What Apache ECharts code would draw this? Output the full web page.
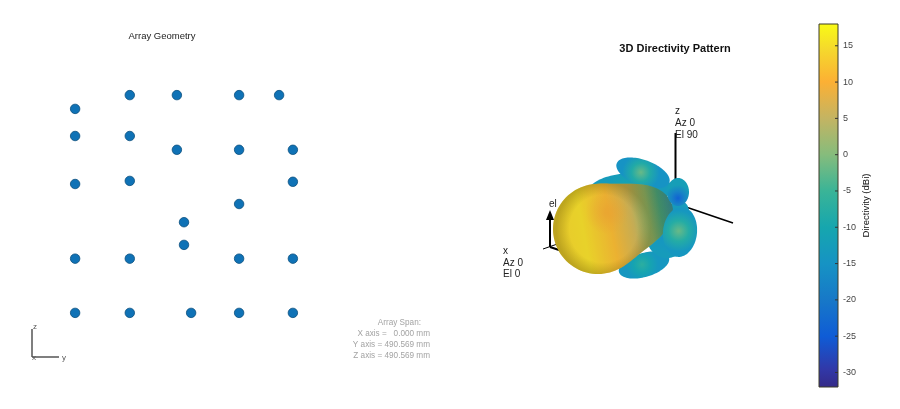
<!DOCTYPE html>
<html><head><meta charset="utf-8">
<style>html,body{margin:0;padding:0;background:#fff}#c{width:900px;height:409px}</style>
<script src="https://cdn.jsdelivr.net/npm/echarts@6/dist/echarts.min.js"></script>
</head><body><div id="c"></div>
<script>
// Element positions of the array (mm)
var elementY = [-122,-16,124,214,-245,-245,-122,-16,124,245,-122,-245,245,124,0,0,-245,-122,124,245,-245,-122,16,124,245];
var elementZ = [245,245,245,245,214,153,153,122,122,122,52,45,50,0,-41,-92,-123,-123,-123,-123,-245,-245,-245,-245,-245];
var spanMm = 245.28;
// Directivity colour bar
var dbiMin = -32, dbiMax = 18;
var dbiTicks = [-30,-25,-20,-15,-10,-5,0,5,10,15];
var mapPos = [0,0.05,0.14,0.24,0.34,0.44,0.54,0.64,0.74,0.84,0.93,1];
var mapCol = ['#352a87','#3138a8','#0f5cd6','#1778c8','#1693c4','#16a6ae','#3ab497','#86bc7c','#c4b462','#fcb034','#f5d92c','#f9fb15'];
// 3D pattern lobes (pattern-view units): x, y, reach, radius, tilt, tail width, peak dBi, rim dBi
var lobeNames = ['shoulder','top','bottom','wedge','main','right','neck'];
var lobeX    = [130, 143, 144, 167,  98, 180, 178];
var lobeY    = [ 95,  78, 170, 143, 134, 137,  97];
var lobeLen  = [ 42,  28,  26,  40,  78,  17,  11];
var lobeWid  = [ 17,  13,  12,  20,  45,  25,  14];
var lobeTilt = [ -3,  20, -16, -66, -19,   6,   0];
var lobeTap  = [  0,   0,   0, 0.5, 0.58,  0,   0];
var lobePeak = [-10,  -2,  -7, -15,  14,  -2, -24];
var lobeRim  = [-13, -15, -14, -13,   8, -14, -12];

function parula(v){
  var t=(v-dbiMin)/(dbiMax-dbiMin),i=1;
  while(i<mapPos.length-1&&mapPos[i]<t)i++;
  var f=(t-mapPos[i-1])/(mapPos[i]-mapPos[i-1]);
  var a=mapCol[i-1],b=mapCol[i],o='#';
  for(var k=1;k<7;k+=2){
    var n=Math.round(parseInt(a.substr(k,2),16)*(1-f)+parseInt(b.substr(k,2),16)*f);
    o+=(n<16?'0':'')+n.toString(16);
  }
  return o;
}
function lobeRender(params,api){
  var i=params.dataIndex;
  var c=api.coord([api.value(0),api.value(1)]);
  var len=api.value(2),wid=api.value(3),tilt=api.value(4)*Math.PI/180,tap=api.value(5);
  var pts=[];
  for(var s=0;s<96;s++){
    var t=s/96*2*Math.PI;
    if(tap>0){
      // round body with a tail pulled out toward the neck
      var d=Math.atan2(Math.sin(t),Math.cos(t));
      var r=wid+(len-wid)*Math.exp(-(d*d)/(tap*tap));
      pts.push([c[0]+r*Math.cos(t+tilt),c[1]+r*Math.sin(t+tilt)]);
    } else {
      var u=len*Math.cos(t),w=wid*Math.sin(t);
      pts.push([c[0]+u*Math.cos(tilt)-w*Math.sin(tilt),c[1]+u*Math.sin(tilt)+w*Math.cos(tilt)]);
    }
  }
  var peak=api.value(6),rim=api.value(7),kids=[];
  var name=lobeNames[i];
  if(name==='main'){
    kids.push({type:'polygon',shape:{points:pts},style:{fill:new echarts.graphic.LinearGradient(0,0.55,1,0.3,[
      {offset:0,color:parula(14)},{offset:0.25,color:parula(15)},{offset:0.48,color:parula(11)},
      {offset:0.66,color:parula(6)},{offset:0.8,color:parula(0)},{offset:0.9,color:parula(-7)},{offset:1,color:parula(-15)}])}});
    kids.push({type:'polygon',shape:{points:pts},style:{fill:new echarts.graphic.RadialGradient(0.45,0.32,0.24,[
      {offset:0,color:'rgba(248,165,50,0.7)'},{offset:1,color:'rgba(248,165,50,0)'}])}});
    kids.push({type:'polygon',shape:{points:pts},style:{fill:'rgba(130,120,50,0.12)'}});
    kids.push({type:'polygon',shape:{points:pts},style:{fill:new echarts.graphic.RadialGradient(0.42,0.5,0.52,[
      {offset:0.72,color:'rgba(90,75,0,0)'},{offset:1,color:'rgba(90,75,0,0.3)'}])}});
  } else {
    var cx=name==='neck'?0.5:0.46, cy=name==='neck'?0.72:0.48;
    kids.push({type:'polygon',shape:{points:pts},style:{fill:new echarts.graphic.RadialGradient(cx,cy,0.6,[
      {offset:0,color:parula(peak)},{offset:0.5,color:parula((peak+rim)/2)},{offset:1,color:parula(rim)}])}});
  }
  return {type:'group',children:kids};
}
var labelFont='"Liberation Sans",Arial,sans-serif';
function txt(x,y,s,size,color,align){
  return {type:'text',x:x,y:y,silent:true,style:{text:s,fontFamily:labelFont,fontSize:size,fill:color,textAlign:align||'left',textVerticalAlign:'middle'}};
}
function seg(x1,y1,x2,y2,w,col){
  return {type:'line',silent:true,shape:{x1:x1,y1:y1,x2:x2,y2:y2},style:{stroke:col||'#000',lineWidth:w}};
}
var hiddenAxis={show:false,axisLine:{show:false},axisTick:{show:false},axisLabel:{show:false},splitLine:{show:false}};
var chart=echarts.init(document.getElementById('c'),null,{renderer:'canvas'});
chart.setOption({
  animation:false,
  backgroundColor:'#fff',
  title:[
    {text:'Array Geometry',left:157,top:26,textAlign:'center',textStyle:{fontFamily:labelFont,fontSize:9.5,fontWeight:'normal',color:'#222'}},
    {text:'3D Directivity Pattern',left:670,top:38,textAlign:'center',textStyle:{fontFamily:labelFont,fontSize:11,fontWeight:'bold',color:'#111'}}
  ],
  grid:[
    {left:75,top:95,width:218,height:218},
    {left:500,top:95,width:240,height:190},
    {left:819,top:24,width:19,height:363}
  ],
  xAxis:[
    Object.assign({type:'value',gridIndex:0,min:-spanMm,max:spanMm},hiddenAxis),
    Object.assign({type:'value',gridIndex:1,min:0,max:240},hiddenAxis),
    Object.assign({type:'value',gridIndex:2,min:0,max:1},hiddenAxis)
  ],
  yAxis:[
    Object.assign({type:'value',gridIndex:0,min:-spanMm,max:spanMm},hiddenAxis),
    Object.assign({type:'value',gridIndex:1,min:0,max:190,inverse:true},hiddenAxis),
    {type:'value',gridIndex:2,position:'right',min:dbiMin,max:dbiMax,
     name:'Directivity (dBi)',nameLocation:'middle',nameRotate:90,nameGap:23,
     nameTextStyle:{fontFamily:labelFont,fontSize:9.5,color:'#111'},
     axisLine:{show:false},splitLine:{show:false},axisTick:{show:false},
     axisLabel:{show:true,margin:5,customValues:dbiTicks,fontFamily:labelFont,fontSize:9,color:'#444'}}
  ],
  series:[
    {type:'scatter',xAxisIndex:0,yAxisIndex:0,clip:false,symbol:'circle',symbolSize:9.5,
     data:elementY.map(function(y,i){return [y,elementZ[i]];}),
     itemStyle:{color:'#0f72b6',borderColor:'#0b4f7e',borderWidth:0.8,opacity:1}},
    {type:'custom',xAxisIndex:1,yAxisIndex:1,clip:false,renderItem:lobeRender,
     data:lobeX.map(function(x,i){return [x,lobeY[i],lobeLen[i],lobeWid[i],lobeTilt[i],lobeTap[i],lobePeak[i],lobeRim[i]];}),
     encode:{x:0,y:1}},
    {type:'custom',xAxisIndex:2,yAxisIndex:2,clip:false,
     renderItem:function(params,api){
       var a=api.coord([0,api.value(1)]),b=api.coord([1,api.value(0)]);
       var stops=mapPos.map(function(p,i){return {offset:1-p,color:mapCol[i]};}).reverse();
       return {type:'rect',shape:{x:a[0],y:a[1],width:b[0]-a[0],height:b[1]-a[1]},
         style:{fill:new echarts.graphic.LinearGradient(0,0,0,1,stops),stroke:'#3c3c28',lineWidth:1}};
     },
     data:[[dbiMin,dbiMax]],encode:{y:[0,1]}},
    {type:'custom',xAxisIndex:2,yAxisIndex:2,clip:false,z:3,
     renderItem:function(params,api){
       var p=api.coord([1,api.value(0)]);
       return {type:'line',shape:{x1:p[0]-3,y1:p[1],x2:p[0],y2:p[1]},style:{stroke:'#333',lineWidth:1}};
     },
     data:dbiTicks.map(function(v){return [v];}),encode:{y:0}}
  ],
  graphic:[
    seg(32,329,32,357,1.5,'#555'),seg(32,357,59,357,1.5,'#555'),
    txt(33,327,'z',8,'#555'),txt(32,358,'x',8,'#555'),txt(62,358,'y',8,'#555'),
    txt(421,323,'Array Span:',8.2,'#a3a3a3','right'),
    txt(430,334,'X axis =   0.000 mm',8.2,'#a3a3a3','right'),
    txt(430,345,'Y axis = 490.569 mm',8.2,'#a3a3a3','right'),
    txt(430,356,'Z axis = 490.569 mm',8.2,'#a3a3a3','right'),
    seg(675.5,133,675.5,181,2,'#000'),
    seg(683,206,733,223,1.6,'#000'),
    seg(550,247,550,214,2,'#000'),
    {type:'polygon',silent:true,shape:{points:[[546,220],[554,220],[550,210]]},style:{fill:'#000'}},
    seg(550,247,571,254,2,'#000'),
    {type:'polygon',silent:true,shape:{points:[[570,250],[568,257],[578,256]]},style:{fill:'#000'}},
    seg(543,249,566,241,1,'#000'),
    txt(675,111,'z',10,'#222'),txt(675,123,'Az 0',10,'#222'),txt(675,135,'El 90',10,'#222'),
    txt(503,251,'x',10,'#222'),txt(503,263,'Az 0',10,'#222'),txt(503,274,'El 0',10,'#222'),
    txt(549,204,'el',10,'#222'),txt(580,258,'az',10,'#222')
  ]
});
</script></body></html>
